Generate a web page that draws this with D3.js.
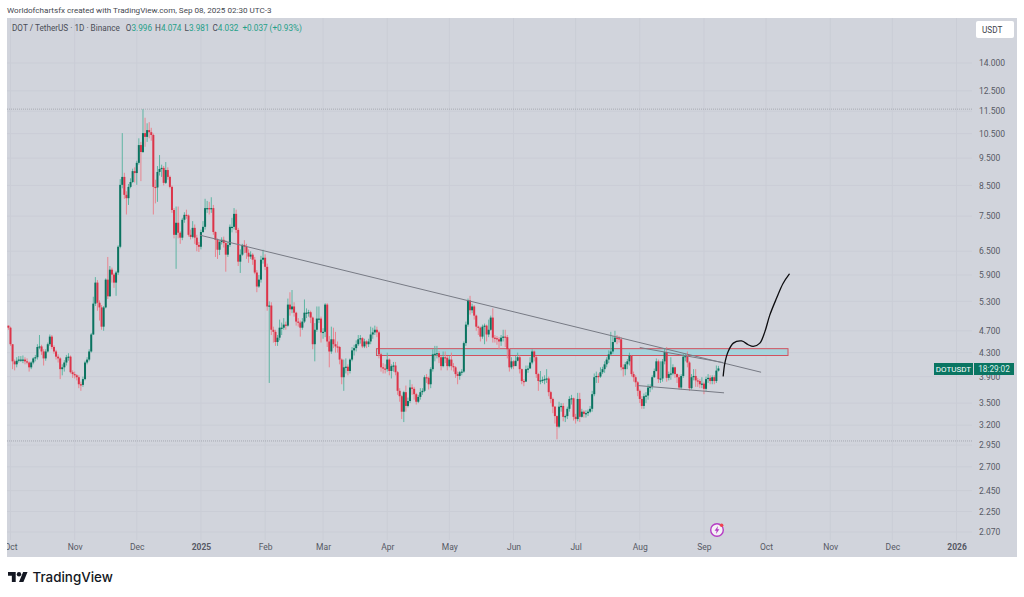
<!DOCTYPE html>
<html>
<head>
<meta charset="utf-8">
<script src="https://cdnjs.cloudflare.com/ajax/libs/d3/7.8.5/d3.min.js"></script>
<style>
  html, body { margin: 0; padding: 0; background: #fff; }
  svg { display: block; }
  text { font-family: Roboto, "Liberation Sans", sans-serif; }
</style>
</head>
<body>
<div id="chart"></div>
<script>
// daily candles, first one is 2024-09-30 (day -1, day 0 = 2024-10-01)
var first_day = -1;
var first_open = 4.80;

var closes = [
  4.76,4.45,4.15,4.10,4.16,4.18,4.18,4.18,4.15,4.13,
  4.05,4.13,4.20,4.22,4.40,4.41,4.32,4.20,4.32,4.45,
  4.59,4.40,4.32,4.23,4.20,4.02,4.05,4.13,4.22,4.23,
  3.97,3.94,3.92,3.89,3.78,3.77,3.86,4.13,4.18,4.32,
  4.63,5.25,5.72,5.27,5.17,4.78,5.17,5.79,5.41,6.03,
  5.91,5.72,5.96,6.62,8.52,8.80,8.18,8.07,8.45,8.62,
  9.01,8.94,9.32,10.02,9.74,10.52,10.36,10.65,10.56,10.44,
  8.45,8.43,8.98,9.09,9.13,8.59,9.05,8.80,8.45,7.69,
  6.95,7.30,7.01,6.87,7.39,7.54,7.52,6.95,6.89,7.15,
  6.87,6.67,6.62,7.03,7.18,7.75,7.75,7.72,7.75,7.03,
  6.81,6.54,6.75,6.81,6.72,6.41,6.67,7.18,7.18,7.57,
  7.09,6.23,6.41,6.67,6.62,6.46,6.36,6.41,6.28,5.96,
  5.63,5.79,6.28,6.33,6.10,5.19,5.21,4.72,4.68,4.49,
  4.57,4.76,4.76,4.82,4.80,5.23,5.13,5.19,5.06,4.88,
  4.86,4.76,4.88,5.06,5.06,5.07,4.96,4.45,4.72,4.94,
  4.94,4.67,4.68,5.23,4.50,4.32,4.54,4.45,4.41,4.40,
  4.18,3.89,4.05,4.06,3.99,4.18,4.34,4.38,4.45,4.54,
  4.56,4.41,4.50,4.45,4.50,4.63,4.67,4.72,4.67,4.27,
  4.05,4.03,4.02,4.18,3.99,4.07,4.08,3.97,3.68,3.60,
  3.38,3.66,3.46,3.53,3.73,3.71,3.63,3.52,3.59,3.66,
  3.68,3.89,3.88,3.78,4.02,4.27,4.28,4.29,4.22,4.07,
  4.22,4.21,4.07,4.18,4.07,4.05,3.94,3.91,3.97,3.98,
  4.47,4.82,5.32,5.11,5.19,5.00,4.78,4.76,4.59,4.78,
  4.80,4.63,4.72,4.96,4.57,4.56,4.54,4.50,4.57,4.59,
  4.58,4.36,4.05,4.15,4.07,4.16,4.22,4.02,3.83,3.82,
  4.02,4.03,4.13,4.32,4.22,3.94,3.83,3.84,3.85,3.86,
  3.87,3.66,3.56,3.45,3.32,3.18,3.45,3.46,3.31,3.32,
  3.42,3.56,3.57,3.31,3.28,3.56,3.31,3.38,3.35,3.36,
  3.38,3.42,3.63,3.89,3.91,3.90,3.97,4.02,4.10,4.18,
  4.27,4.32,4.49,4.57,4.56,4.54,4.05,4.02,4.10,4.15,
  4.25,3.94,3.89,3.81,3.68,3.56,3.46,3.60,3.61,3.73,
  3.74,3.89,3.99,4.15,3.86,3.87,4.15,4.31,3.88,3.94,
  3.95,4.05,3.94,3.89,3.73,3.91,4.23,4.24,4.13,3.72,
  3.89,3.91,3.84,3.83,3.78,3.79,3.71,3.86,3.88,3.83,
  3.89,3.83,3.996,4.032
];

var highs = [
  4.80,4.78,4.45,4.18,4.22,4.24,4.24,4.25,4.22,4.20,
  4.15,4.15,4.22,4.26,4.45,4.62,4.44,4.36,4.36,4.48,
  4.63,4.62,4.43,4.35,4.27,4.22,4.10,4.17,4.26,4.29,
  4.25,4.00,3.98,3.94,3.92,3.82,3.90,4.16,4.22,4.36,
  4.66,5.40,5.85,5.78,5.32,5.22,5.20,5.82,6.35,6.12,
  6.08,5.95,6.00,6.66,8.72,10.52,8.95,8.30,8.55,8.75,
  9.10,9.15,9.40,10.30,10.15,11.60,11.20,10.95,11.00,10.75,
  10.50,8.70,9.20,9.62,9.25,9.20,9.35,9.15,8.85,8.50,
  7.75,7.80,7.80,7.05,7.45,7.62,7.70,7.55,7.10,7.35,
  7.25,6.95,6.75,7.10,7.35,8.05,7.98,7.95,8.10,7.85,
  7.05,6.85,6.80,6.88,6.90,6.80,6.75,7.25,7.45,7.75,
  7.70,7.15,6.55,6.70,6.80,6.70,6.55,6.50,6.45,6.35,
  6.02,5.90,6.38,6.54,6.42,6.18,5.30,5.28,4.78,4.72,
  4.62,4.92,4.86,4.95,4.88,5.36,5.50,5.55,5.28,5.08,
  4.95,4.90,4.95,5.34,5.15,5.12,5.10,4.98,4.85,5.19,
  5.19,4.98,4.75,5.26,5.26,4.60,4.78,4.76,4.68,4.50,
  4.42,4.20,4.18,4.20,4.10,4.20,4.40,4.44,4.52,4.62,
  4.62,4.58,4.55,4.52,4.55,4.78,4.76,4.80,4.78,4.70,
  4.30,4.12,4.10,4.30,4.20,4.10,4.14,4.14,3.99,3.72,
  3.62,3.68,3.76,3.58,3.85,3.78,3.74,3.65,3.62,3.72,
  3.72,3.92,3.94,3.90,4.05,4.36,4.42,4.42,4.33,4.25,
  4.32,4.32,4.24,4.24,4.30,4.12,4.07,3.98,3.99,4.02,
  4.50,4.88,5.36,5.42,5.25,5.22,5.02,4.80,4.78,4.82,
  4.84,4.82,4.92,5.00,5.15,4.62,4.60,4.58,4.62,4.72,
  4.72,4.62,4.38,4.22,4.17,4.24,4.30,4.25,4.03,3.86,
  4.08,4.08,4.22,4.36,4.34,4.24,3.96,3.99,3.90,3.92,
  4.02,3.90,3.68,3.58,3.46,3.33,3.52,3.50,3.50,3.34,
  3.45,3.60,3.62,3.58,3.35,3.65,3.65,3.42,3.40,3.40,
  3.41,3.46,3.68,3.95,3.98,3.95,4.05,4.06,4.15,4.22,
  4.34,4.68,4.60,4.70,4.62,4.60,4.58,4.10,4.14,4.19,
  4.30,4.26,3.98,3.92,3.83,3.70,3.60,3.64,3.66,3.78,
  3.78,3.92,4.03,4.20,4.18,4.15,4.19,4.38,4.40,3.98,
  4.22,4.10,4.06,3.95,3.93,3.94,4.28,4.28,4.32,4.15,
  3.94,4.02,4.02,3.88,3.86,3.89,3.82,3.90,3.94,3.92,
  3.92,3.92,4.08,4.074
];

var lows = [
  4.72,4.42,4.02,4.00,4.05,4.13,4.14,4.12,4.10,4.10,
  3.98,4.02,4.10,4.15,4.18,4.36,4.26,4.08,4.16,4.30,
  4.42,4.36,4.28,4.18,4.13,3.86,3.92,3.98,4.08,4.16,
  3.95,3.88,3.87,3.84,3.72,3.68,3.74,3.84,4.10,4.15,
  4.30,4.62,5.20,5.10,4.90,4.72,4.70,5.15,5.35,5.40,
  5.72,5.60,5.42,5.90,6.58,8.40,8.05,7.55,7.85,8.40,
  8.58,8.60,8.52,9.25,8.65,9.70,9.95,10.15,10.30,10.20,
  7.55,7.90,7.95,8.85,8.80,8.50,8.55,8.70,8.40,7.60,
  6.85,6.05,6.85,6.70,6.80,7.30,7.42,6.90,6.82,6.85,
  6.70,6.50,6.48,6.55,7.00,7.10,7.60,7.55,7.60,6.95,
  6.35,6.30,6.40,6.68,6.60,5.98,6.35,6.62,7.02,7.10,
  7.00,6.12,5.95,6.38,6.45,6.30,6.20,6.30,6.15,5.92,
  5.50,5.60,5.72,6.18,6.02,5.10,3.80,4.62,4.48,4.42,
  4.42,4.52,4.62,4.72,4.72,4.78,5.00,5.05,4.98,4.80,
  4.78,4.59,4.72,4.85,4.95,4.98,4.85,4.36,4.15,4.68,
  4.85,4.48,4.55,4.58,4.40,4.05,4.28,4.38,4.30,4.30,
  4.10,3.78,3.68,3.95,3.92,3.95,4.15,4.25,4.32,4.42,
  4.46,4.38,4.38,4.38,4.40,4.45,4.55,4.62,4.58,4.20,
  3.98,3.95,3.95,3.98,3.92,3.87,3.98,3.92,3.62,3.52,
  3.28,3.24,3.38,3.44,3.50,3.62,3.55,3.48,3.50,3.55,
  3.62,3.66,3.80,3.70,3.72,3.98,4.15,4.20,4.12,4.00,
  4.05,4.12,4.00,4.05,4.00,3.98,3.88,3.78,3.85,3.92,
  3.96,4.42,4.78,5.02,5.05,4.92,4.70,4.62,4.50,4.55,
  4.45,4.50,4.58,4.70,4.48,4.48,4.44,4.36,4.42,4.50,
  4.40,4.20,3.98,4.02,4.02,4.10,4.15,3.95,3.78,3.75,
  3.92,3.96,4.05,4.10,4.15,3.88,3.68,3.78,3.80,3.78,
  3.80,3.60,3.50,3.36,3.22,3.02,3.16,3.38,3.25,3.24,
  3.28,3.38,3.48,3.26,3.22,3.25,3.24,3.30,3.30,3.30,
  3.32,3.36,3.38,3.60,3.80,3.80,3.88,3.94,3.96,4.05,
  4.12,4.25,4.28,4.48,4.45,4.48,4.00,3.90,3.92,4.02,
  4.08,3.90,3.82,3.74,3.60,3.50,3.42,3.42,3.50,3.55,
  3.66,3.70,3.88,3.98,3.80,3.80,3.82,4.10,3.82,3.84,
  3.85,3.92,3.88,3.80,3.70,3.70,3.88,4.15,4.05,3.68,
  3.70,3.84,3.74,3.74,3.72,3.72,3.63,3.68,3.80,3.78,
  3.78,3.78,3.80,3.981
];

var price_ticks = [14, 12.5, 11.5, 10.5, 9.5, 8.5, 7.5, 6.5, 5.9, 5.3, 4.7, 4.3, 3.9, 3.5, 3.2, 2.95, 2.7, 2.45, 2.25, 2.07];
var month_days = [0, 31, 61, 92, 123, 151, 182, 212, 243, 273, 304, 335, 365, 396, 426, 457];
var month_labels = ['Oct', 'Nov', 'Dec', '2025', 'Feb', 'Mar', 'Apr', 'May', 'Jun', 'Jul', 'Aug', 'Sep', 'Oct', 'Nov', 'Dec', '2026'];
var year_labels = ['2025', '2026'];

// drawings on the chart, day number + price
var high_level = 11.6;
var low_level = 3.0;
var zone_days = [176.8, 375.6];
var zone_prices = [4.37, 4.25];
var trend_lines = [
  { name: 'main', days: [91.5, 362.6], prices: [6.94, 3.97] },
  { name: 'upper', days: [304, 344.2], prices: [4.39, 4.13] },
  { name: 'lower', days: [303, 344.7], prices: [3.76, 3.65] }
];
var pen_days = [344.3, 345.1, 346.7, 349.2, 353.2, 356.4, 358.8, 362, 364.4, 366.8, 370.1, 373.2, 376.2];
var pen_prices = [3.91, 4.12, 4.32, 4.47, 4.51, 4.44, 4.41, 4.47, 4.68, 5.01, 5.37, 5.70, 5.92];

var width = 1024, height = 597;
var panel = { left: 7, right: 1017, top: 18, bottom: 557 };
var axis_x = 972, axis_y = 540;

var up_body = '#0a7360', up_wick = '#5fb5a3';
var down_body = '#dc3449', down_wick = '#e8848f';
var label_color = '#565964';

var x = d3.scaleLinear().domain([0, 457]).range([10.5, 956.5]);
var y = d3.scaleLog().domain([14, 2.07]).range([63, 532]);

var svg = d3.select('#chart').append('svg').attr('width', width).attr('height', height);

svg.append('text')
  .attr('x', 7).attr('y', 13)
  .attr('font-size', 8.1).attr('fill', '#44474f')
  .text('Worldofchartsfx created with TradingView.com, Sep 08, 2025 02:30 UTC-3');

svg.append('rect')
  .attr('x', panel.left).attr('y', panel.top)
  .attr('width', panel.right - panel.left).attr('height', panel.bottom - panel.top)
  .attr('fill', '#d1d4dc');

svg.append('clipPath').attr('id', 'panel_clip').append('rect')
  .attr('x', panel.left).attr('y', panel.top)
  .attr('width', panel.right - panel.left).attr('height', panel.bottom - panel.top);

svg.append('clipPath').attr('id', 'plot_clip').append('rect')
  .attr('x', panel.left).attr('y', panel.top)
  .attr('width', axis_x - panel.left).attr('height', axis_y - panel.top);

// grid
var grid = svg.append('g').attr('clip-path', 'url(#plot_clip)');
grid.selectAll('line.h').data(price_ticks).enter().append('line')
  .attr('class', 'h')
  .attr('x1', panel.left).attr('x2', axis_x)
  .attr('y1', function(d){ return y(d); }).attr('y2', function(d){ return y(d); })
  .attr('stroke', '#cacdd6').attr('stroke-width', 1);
grid.selectAll('line.v').data(month_days).enter().append('line')
  .attr('class', 'v')
  .attr('x1', function(d){ return x(d); }).attr('x2', function(d){ return x(d); })
  .attr('y1', panel.top).attr('y2', axis_y)
  .attr('stroke', '#cacdd6').attr('stroke-width', 1);

// high / low dotted levels
svg.selectAll('line.level').data([high_level, low_level]).enter().append('line')
  .attr('class', 'level')
  .attr('x1', panel.left).attr('x2', axis_x)
  .attr('y1', function(d){ return y(d); }).attr('y2', function(d){ return y(d); })
  .attr('stroke', '#a6a9b2').attr('stroke-width', 1).attr('stroke-dasharray', '1,1');

// zone
svg.append('rect')
  .attr('x', x(zone_days[0])).attr('y', y(zone_prices[0]))
  .attr('width', x(zone_days[1]) - x(zone_days[0]))
  .attr('height', y(zone_prices[1]) - y(zone_prices[0]))
  .attr('fill', '#a6d3dc').attr('stroke', '#d2525f').attr('stroke-width', 1);

// candles
var candles = closes.map(function(c, i){
  return {
    day: first_day + i,
    open: i === 0 ? first_open : closes[i - 1],
    close: c,
    high: highs[i],
    low: lows[i]
  };
});

var candle = svg.append('g').attr('clip-path', 'url(#plot_clip)')
  .selectAll('g').data(candles).enter().append('g');

candle.append('line')
  .attr('x1', function(d){ return x(d.day); })
  .attr('x2', function(d){ return x(d.day); })
  .attr('y1', function(d){ return y(d.high); })
  .attr('y2', function(d){ return y(d.low); })
  .attr('stroke', function(d){ return d.close >= d.open ? up_wick : down_wick; })
  .attr('stroke-width', 1);

candle.append('rect')
  .attr('x', function(d){ return x(d.day) - 1; })
  .attr('width', 2)
  .attr('y', function(d){ return Math.min(y(d.open), y(d.close)); })
  .attr('height', function(d){ return Math.max(1.2, Math.abs(y(d.open) - y(d.close))); })
  .attr('fill', function(d){ return d.close >= d.open ? up_body : down_body; });

// trend lines
svg.selectAll('line.trend').data(trend_lines).enter().append('line')
  .attr('class', 'trend')
  .attr('x1', function(d){ return x(d.days[0]); })
  .attr('x2', function(d){ return x(d.days[1]); })
  .attr('y1', function(d){ return y(d.prices[0]); })
  .attr('y2', function(d){ return y(d.prices[1]); })
  .attr('stroke', '#777a84').attr('stroke-width', 1);

// hand drawn projection
var pen_line = d3.line()
  .x(function(d){ return x(d); })
  .y(function(d, i){ return y(pen_prices[i]); })
  .curve(d3.curveCatmullRom);

svg.append('path')
  .attr('d', pen_line(pen_days))
  .attr('fill', 'none').attr('stroke', '#0d0d10').attr('stroke-width', 1.3)
  .attr('stroke-linecap', 'round');

// axes
svg.append('clipPath').attr('id', 'axis_clip').append('rect')
  .attr('x', panel.left).attr('y', 0).attr('width', panel.right - panel.left).attr('height', 30);
var time_axis = svg.append('g')
  .attr('class', 'time_axis')
  .attr('transform', 'translate(0,' + axis_y + ')')
  .attr('clip-path', 'url(#axis_clip)')
  .call(d3.axisBottom(x).tickValues(month_days).tickSize(0).tickPadding(4)
    .tickFormat(function(d, i){ return month_labels[i]; }));
time_axis.select('.domain').remove();
time_axis.selectAll('text')
  .attr('font-size', 8.5).attr('fill', label_color)
  .attr('font-weight', function(d, i){ return year_labels.indexOf(month_labels[i]) >= 0 ? 700 : 400; });

var price_axis = svg.append('g')
  .attr('class', 'price_axis')
  .attr('transform', 'translate(' + axis_x + ',0)')
  .call(d3.axisRight(y).tickValues(price_ticks).tickSize(0).tickPadding(7)
    .tickFormat(d3.format('.3f')));
price_axis.select('.domain').remove();
price_axis.selectAll('text')
  .attr('font-size', 8.5).attr('fill', label_color);

// legend
var legend = svg.append('text').attr('x', 12).attr('y', 31).attr('font-size', 8.2).attr('fill', '#4a4d56');
legend.append('tspan').text('DOT / TetherUS · 1D · Binance');
var legend_parts = [['O', '3.996'], ['H', '4.074'], ['L', '3.981'], ['C', '4.032']];
legend_parts.forEach(function(p, i){
  legend.append('tspan').attr('dx', i === 0 ? 6 : 3).text(p[0]);
  legend.append('tspan').attr('fill', '#24a088').text(p[1]);
});
legend.append('tspan').attr('dx', 4).attr('fill', '#24a088').text('+0.037 (+0.93%)');

// currency button
svg.append('rect')
  .attr('x', 976).attr('y', 21).attr('width', 38).attr('height', 17).attr('rx', 2)
  .attr('fill', '#fff');
svg.append('text').attr('x', 982).attr('y', 33).attr('font-size', 8.2).attr('fill', '#40434c').text('USDT');

// last price labels
var last_y = 369;
svg.append('rect').attr('x', 934).attr('y', last_y - 6).attr('width', 39).attr('height', 12).attr('fill', '#0a7562');
svg.append('rect').attr('x', 974).attr('y', last_y - 6).attr('width', 40).attr('height', 12).attr('fill', '#0a7562');
svg.append('text').attr('x', 953.5).attr('y', last_y + 3).attr('text-anchor', 'middle')
  .attr('font-size', 8).attr('fill', '#fff').text('DOTUSDT');
svg.append('text').attr('x', 994).attr('y', last_y + 3).attr('text-anchor', 'middle')
  .attr('font-size', 8.2).attr('fill', '#dcefea').text('18:29:02');

// lightning badge
var badge = svg.append('g').attr('transform', 'translate(717,530)');
badge.append('circle').attr('r', 6.3).attr('fill', '#f4f1f6').attr('stroke', '#b53cc4').attr('stroke-width', 1.4);
badge.append('path').attr('d', 'M1,-4 L-2.4,0.8 L-0.4,0.8 L-1,4 L2.4,-0.8 L0.4,-0.8 Z').attr('fill', '#b53cc4');
badge.append('circle').attr('cx', 4.6).attr('cy', -4.8).attr('r', 1.8).attr('fill', '#ef4350');

// footer logo
svg.append('path')
  .attr('transform', 'translate(8,569.8) scale(0.55)')
  .attr('d', 'M14 22H7V11H0V4h14v18zM28 22h-8l7.5-18h8L28 22z')
  .attr('fill', '#131722');
svg.append('circle')
  .attr('cx', 8 + 20 * 0.55).attr('cy', 569.8 + 8 * 0.55).attr('r', 4 * 0.55)
  .attr('fill', '#131722');
svg.append('text')
  .attr('x', 32.5).attr('y', 582)
  .attr('font-size', 13.4).attr('font-weight', 500)
  .attr('style', 'font-family: Inter, Roboto, sans-serif')
  .attr('fill', '#131722').text('TradingView');
</script>
</body>
</html>
